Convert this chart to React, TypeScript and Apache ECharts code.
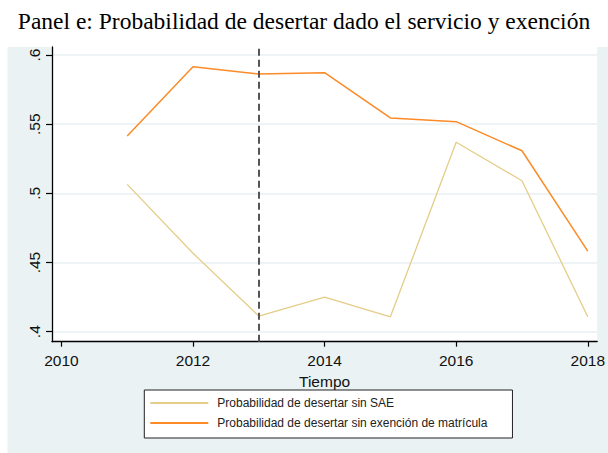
import React, { useEffect, useRef } from "react";
import * as echarts from "echarts";

const years = [2011, 2012, 2013, 2014, 2015, 2016, 2017, 2018];
const sinSAE = [0.5065, 0.4567, 0.4113, 0.425, 0.4108, 0.5369, 0.5091, 0.4108];
const sinExencion = [0.5415, 0.5915, 0.5863, 0.5872, 0.5545, 0.5518, 0.5308, 0.4583];
const xTicks = [2010, 2012, 2014, 2016, 2018];
const yTicks = [0.4, 0.45, 0.5, 0.55, 0.6];
const cutYear = 2013;
const seriesNames = [
  "Probabilidad de desertar sin SAE",
  "Probabilidad de desertar sin exención de matrícula",
];
const titleText = "Panel e: Probabilidad de desertar dado el servicio y exención";

const SANS = "'Liberation Sans', Arial, sans-serif";
const SERIF = "'Liberation Serif', 'Times New Roman', serif";

export default function App() {
  const ref = useRef<HTMLDivElement>(null);
  useEffect(() => {
    if (!ref.current) return;
    const chart = echarts.init(ref.current, undefined, { renderer: "svg" });
    const fmtY = (v: number) => Number(v.toFixed(2)).toString().replace(/^0\./, ".");
    chart.setOption({
      animation: false,
      title: {
        text: titleText,
        left: "center",
        top: 9,
        padding: 0,
        textStyle: { fontFamily: SERIF, fontSize: 23.5, fontWeight: "normal", color: "#000" },
      },
      graphic: [
        {
          type: "rect",
          z: -10,
          silent: true,
          shape: { x: 7.5, y: 47, width: 601, height: 406 },
          style: { fill: "#eaf2f3" },
        },
      ],
      grid: {
        left: 52,
        right: 5,
        top: 47,
        bottom: 111.3,
        show: true,
        backgroundColor: "#ffffff",
        borderWidth: 0,
      },
      legend: {
        orient: "vertical",
        left: 144.3,
        top: 390,
        padding: [7, 25, 9, 6],
        itemGap: 8,
        itemWidth: 58,
        itemHeight: 2,
        icon: "rect",
        backgroundColor: "#ffffff",
        borderColor: "#222",
        borderWidth: 1,
        textStyle: { fontFamily: SANS, fontSize: 12, color: "#222", padding: [0, 0, 0, 4] },
        data: seriesNames,
      },
      xAxis: {
        type: "value",
        min: 2009.857,
        max: 2018.143,
        name: "Tiempo",
        nameLocation: "middle",
        nameGap: 30,
        nameTextStyle: { fontFamily: SANS, fontSize: 15.5, color: "#111" },
        axisLine: { show: true, onZero: false, lineStyle: { color: "#000", width: 1.3 } },
        axisTick: { show: true, length: 5, lineStyle: { color: "#000", width: 1.2 }, customValues: xTicks },
        axisLabel: {
          customValues: xTicks,
          margin: 11,
          fontFamily: SANS,
          fontSize: 15.5,
          color: "#111",
          formatter: (v: number) => String(v),
        },
        splitLine: { show: false },
      },
      yAxis: {
        type: "value",
        min: 0.39277,
        max: 0.60578,
        axisLine: { show: true, onZero: false, lineStyle: { color: "#000", width: 1.3 } },
        axisTick: { show: true, length: 6, lineStyle: { color: "#000", width: 1.2 }, customValues: yTicks },
        axisLabel: {
          customValues: yTicks,
          rotate: 90,
          margin: 10,
          fontFamily: SANS,
          fontSize: 15.5,
          color: "#111",
          formatter: fmtY,
        },
        splitLine: { show: true, lineStyle: { color: "#e8f0f2", width: 1.5 } },
      },
      series: [
        {
          name: seriesNames[0],
          type: "line",
          data: years.map((y, i) => [y, sinSAE[i]]),
          symbol: "none",
          color: "#e4cd88",
          lineStyle: { width: 1.3, color: "#e4cd88" },
        },
        {
          name: seriesNames[1],
          type: "line",
          data: years.map((y, i) => [y, sinExencion[i]]),
          symbol: "none",
          color: "#fc8a26",
          lineStyle: { width: 1.5, color: "#fc8a26" },
          markLine: {
            silent: true,
            symbol: "none",
            label: { show: false },
            lineStyle: { type: [7, 4], color: "#555", width: 2 },
            data: [{ xAxis: cutYear }],
          },
        },
      ],
    });
    return () => chart.dispose();
  }, []);
  return (
    <div
      ref={ref}
      style={{ position: "absolute", left: 0, top: 0, width: 608, height: 453 }}
    />
  );
}
